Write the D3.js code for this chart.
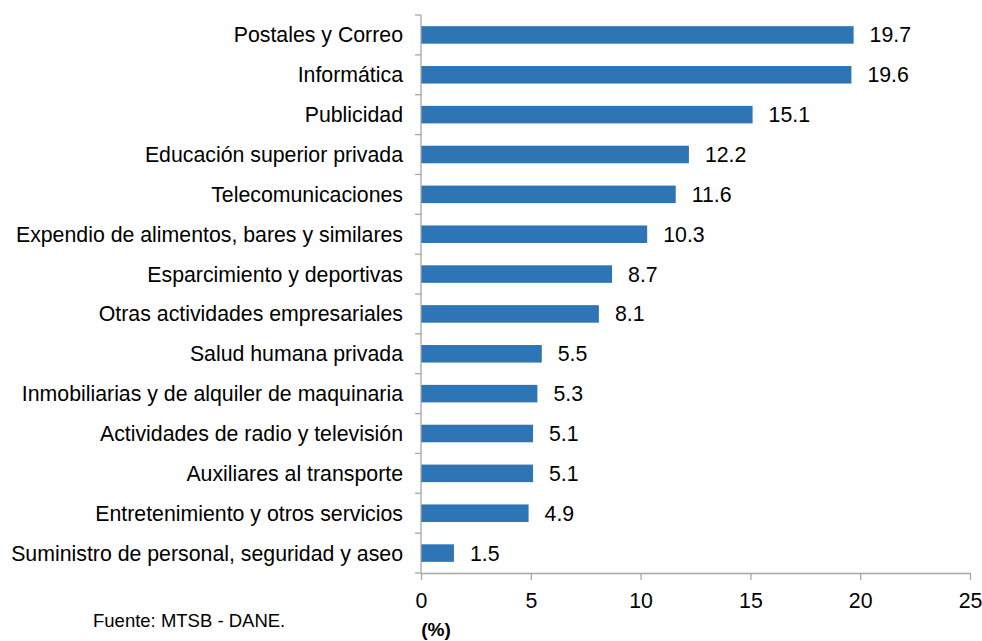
<!DOCTYPE html>
<html>
<head>
<meta charset="utf-8">
<script src="https://cdn.jsdelivr.net/npm/d3@7"></script>
<style>
  body { margin: 0; background: #fff; }
  svg { display: block; font-family: "Liberation Sans", Arial, sans-serif; }
</style>
</head>
<body>
<svg id="chart" width="982" height="641"></svg>
<script>
// sectors and their values (%)
const sectors = [
  'Postales y Correo',
  'Informática',
  'Publicidad',
  'Educación superior privada',
  'Telecomunicaciones',
  'Expendio de alimentos, bares y similares',
  'Esparcimiento y deportivas',
  'Otras actividades empresariales',
  'Salud humana privada',
  'Inmobiliarias y de alquiler de maquinaria',
  'Actividades de radio y televisión',
  'Auxiliares al transporte',
  'Entretenimiento y otros servicios',
  'Suministro de personal, seguridad y aseo'
];
const values = [19.7, 19.6, 15.1, 12.2, 11.6, 10.3, 8.7, 8.1, 5.5, 5.3, 5.1, 5.1, 4.9, 1.5];
const xTicks = [0, 5, 10, 15, 20, 25];

const svg = d3.select('#chart');
const m = { left: 421, right: 970, top: 15, bottom: 573 };
const axisColor = '#a6a6a6';
const fs = 21.3;

const x = d3.scaleLinear().domain([0, 25]).range([m.left, m.right]);
const y = d3.scaleBand().domain(sectors).range([m.top, m.bottom]).paddingInner(0.56).paddingOuter(0.28);

// bars
svg.append('g').selectAll('rect').data(sectors).join('rect')
  .attr('x', x(0))
  .attr('y', d => y(d))
  .attr('width', (d, i) => x(values[i]) - x(0))
  .attr('height', y.bandwidth())
  .attr('fill', '#2e75b6');

// value labels
svg.append('g').selectAll('text').data(sectors).join('text')
  .attr('x', (d, i) => x(values[i]) + 16)
  .attr('y', d => y(d) + y.bandwidth() / 2 + 7.5)
  .attr('font-size', fs).attr('fill', '#000')
  .text((d, i) => values[i].toFixed(1));

// y axis: line + tick marks at band boundaries
const step = (m.bottom - m.top) / sectors.length;
const ya = svg.append('g');
ya.append('line').attr('x1', m.left).attr('x2', m.left).attr('y1', m.top).attr('y2', m.bottom)
  .attr('stroke', axisColor).attr('stroke-width', 1.3);
ya.selectAll('line.t').data(d3.range(sectors.length + 1)).join('line')
  .attr('class', 't')
  .attr('x1', m.left - 6).attr('x2', m.left)
  .attr('y1', i => m.top + i * step).attr('y2', i => m.top + i * step)
  .attr('stroke', axisColor).attr('stroke-width', 1.3);
ya.selectAll('text').data(sectors).join('text')
  .attr('x', 403)
  .attr('y', d => y(d) + y.bandwidth() / 2 + 7.5)
  .attr('text-anchor', 'end').attr('font-size', fs).attr('fill', '#000')
  .text(d => d);

// x axis
const xa = svg.append('g').attr('transform', `translate(0,${m.bottom})`)
  .call(d3.axisBottom(x).tickValues(xTicks).tickSize(7).tickSizeOuter(0).tickPadding(13));
xa.select('.domain').attr('stroke', axisColor).attr('stroke-width', 1.3);
xa.selectAll('.tick line').attr('stroke', axisColor).attr('stroke-width', 1.3);
xa.selectAll('.tick text').attr('font-size', fs).attr('fill', '#000')
  .attr('font-family', '"Liberation Sans", Arial, sans-serif');

svg.append('text').attr('x', 436).attr('y', 636).attr('text-anchor', 'middle')
  .attr('font-size', 19).attr('font-weight', 'bold').text('(%)');

svg.append('text').attr('x', 93).attr('y', 627)
  .attr('font-size', 18.5).text('Fuente: MTSB - DANE.');
</script>
</body>
</html>
